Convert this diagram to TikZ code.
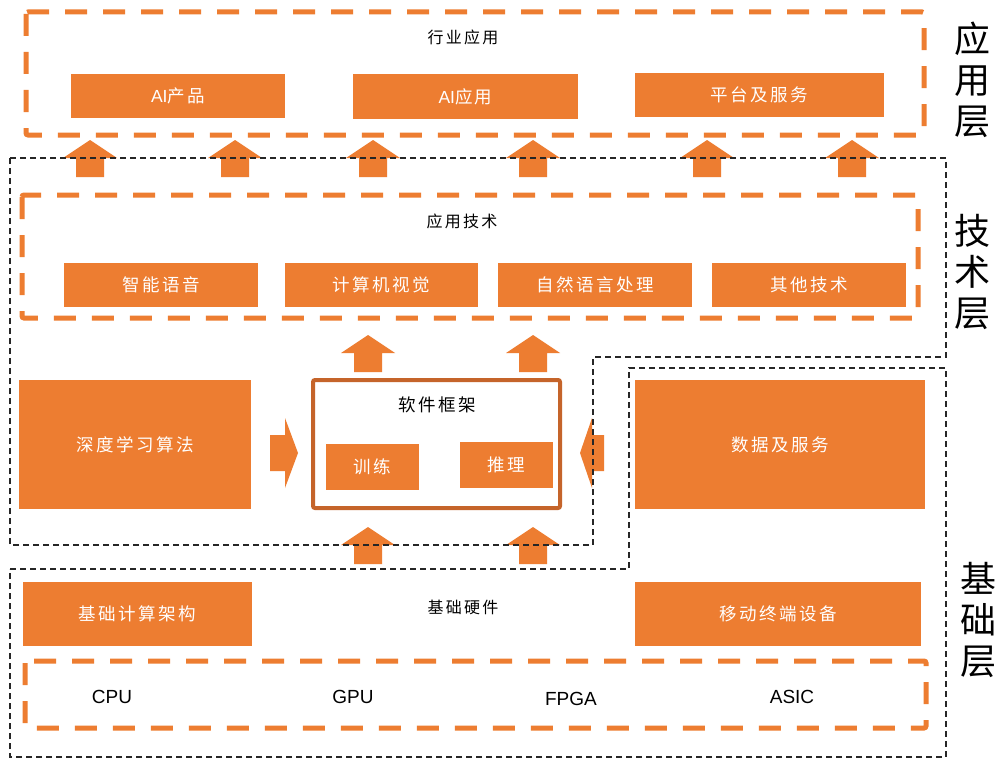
\documentclass[tikz,border=0pt]{standalone}
\usepackage{fontspec}
\setmainfont{Liberation Sans}
\newfontfamily\cjk[LetterSpace=14]{Noto Sans CJK SC}
\definecolor{org}{HTML}{ED7D31}
\definecolor{dorg}{HTML}{C5642A}
\begin{document}
\begin{tikzpicture}[x=1pt,y=-1pt,
  obox/.style={fill=org,text=white,inner sep=0pt,font=\cjk\fontsize{17.5}{20}\selectfont},
  odash/.style={draw=org,line width=5pt,dash pattern=on 22pt off 16pt,rounded corners=2pt},
  bdash/.style={draw=black!85,line width=1.6pt,dash pattern=on 6pt off 4pt},
  lbl/.style={font=\cjk\fontsize{16}{18}\selectfont,inner sep=0pt},
  layer/.style={font=\cjk\fontsize{36}{41}\selectfont,align=center,inner sep=0pt},
  hw/.style={font=\fontsize{19}{22}\selectfont,inner sep=0pt},
  uparr/.pic={\fill[org] (0,0) -- (27,18) -- (14,18) -- (14,37) -- (-14,37) -- (-14,18) -- (-27,18) -- cycle;},
  rtarr/.pic={\fill[org] (0,0) -- (-13,-35) -- (-13,-18) -- (-28,-18) -- (-28,18) -- (-13,18) -- (-13,35) -- cycle;},
  ltarr/.pic={\fill[org] (0,0) -- (12,-35) -- (12,-18) -- (24,-18) -- (24,18) -- (12,18) -- (12,35) -- cycle;}
]
\fill[white] (0,0) rectangle (999,760);
\useasboundingbox (0,0) rectangle (999,760);

% arrows (drawn beneath the dashed outlines)
\foreach \ax in {90,235,373,533,707,852} \pic at (\ax,140) {uparr};
\foreach \ax in {368,533} \pic at (\ax,335) {uparr};
\foreach \ax in {368,533} \pic at (\ax,527) {uparr};
\pic at (298,453) {rtarr};
\pic at (580,453) {ltarr};

% application layer
\draw[odash] (26,12) rectangle (924,135);
\node[lbl] (hyyy) at (463,37) {行业应用};
\node[obox,minimum width=214pt,minimum height=44pt] (aip) at (178,96) {{\fontspec{Liberation Sans}AI}产品};
\node[obox,minimum width=225pt,minimum height=45pt] (aiapp) at (465.5,96.5) {{\fontspec{Liberation Sans}AI}应用};
\node[obox,minimum width=249pt,minimum height=44pt] (plat) at (759.5,95) {平台及服务};
\node[layer] (l1) at (972,80) {应\\用\\层};

% technology layer
\draw[odash] (22,195) rectangle (918,318);
\node[lbl] (yyjs) at (462,221) {应用技术};
\node[obox,minimum width=194pt,minimum height=44pt] (voice) at (161,285) {智能语音};
\node[obox,minimum width=193pt,minimum height=44pt] (cv) at (381.5,285) {计算机视觉};
\node[obox,minimum width=194pt,minimum height=44pt] (nlp) at (595,285) {自然语言处理};
\node[obox,minimum width=194pt,minimum height=44pt] (other) at (809,285) {其他技术};
\node[layer] (l2) at (972,272) {技\\术\\层};

\node[obox,minimum width=232pt,minimum height=129pt] (dl) at (135,444.5) {深度学习算法};
\node[draw=dorg,line width=4pt,rounded corners=2pt,minimum width=247pt,minimum height=128pt,inner sep=0pt] (frame) at (436.5,444) {};
\node[lbl,font=\cjk\fontsize{17.5}{20}\selectfont] (rjkj) at (437,405) {软件框架};
\node[obox,minimum width=93pt,minimum height=46pt] (train) at (372.5,467) {训练};
\node[obox,minimum width=93pt,minimum height=46pt] (infer) at (506.5,465) {推理};
\node[obox,minimum width=290pt,minimum height=129pt] (data) at (780,444.5) {数据及服务};

% base layer
\node[obox,minimum width=229pt,minimum height=64pt] (basearch) at (137.5,614) {基础计算架构};
\node[obox,minimum width=286pt,minimum height=64pt] (mobile) at (778,614) {移动终端设备};
\node[lbl] (jcyj) at (463,607) {基础硬件};
\draw[odash] (25,661) rectangle (926,728);
\node[hw] (cpu) at (112,697) {CPU};
\node[hw] (gpu) at (353,697) {GPU};
\node[hw] (fpga) at (571,699) {FPGA};
\node[hw] (asic) at (792,697) {ASIC};
\node[layer] (l3) at (978,620) {基\\础\\层};

% black dashed outlines
\draw[bdash] (10,158) -- (946,158) -- (946,357) -- (593,357) -- (593,545) -- (10,545) -- cycle;
\draw[bdash] (10,569) -- (629,569) -- (629,368) -- (946,368) -- (946,757) -- (10,757) -- cycle;
\end{tikzpicture}
\end{document}
